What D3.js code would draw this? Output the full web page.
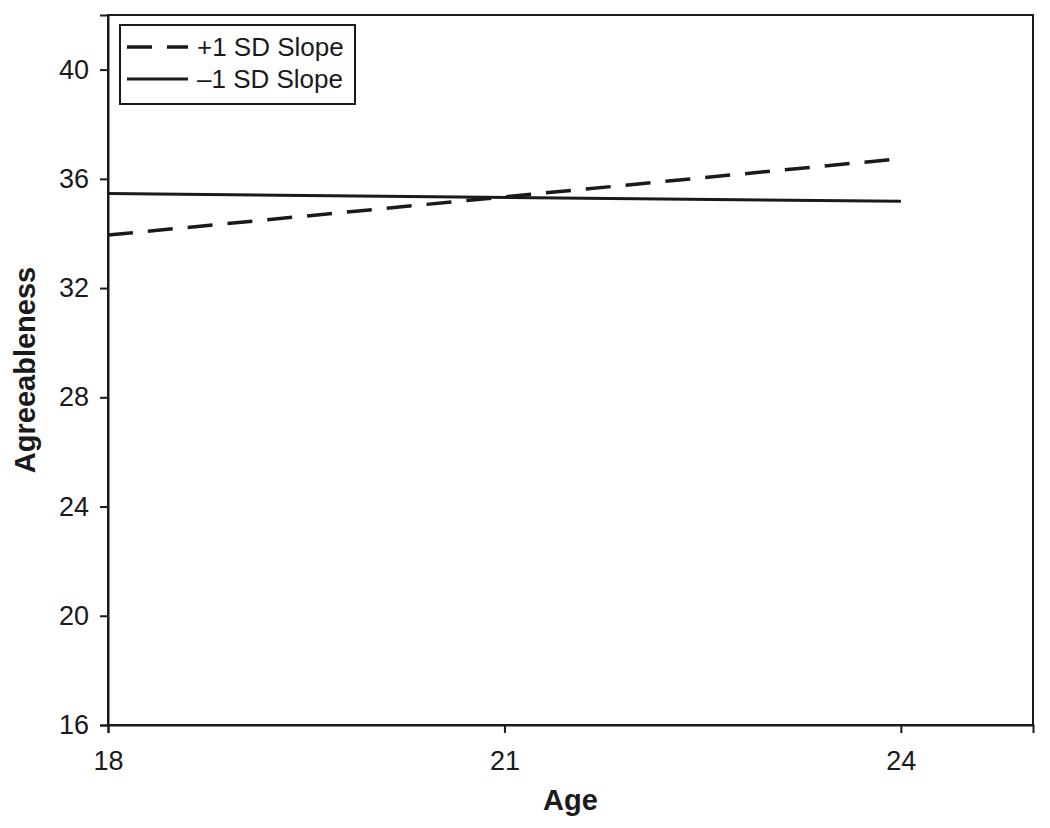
<!DOCTYPE html>
<html><head><meta charset="utf-8">
<script src="https://cdn.jsdelivr.net/npm/d3@7"></script>
<style>body{margin:0;background:#fff;} svg{display:block;}</style>
</head><body>
<script>
const ages = [18, 24];
const plusSD = [33.94, 36.74];
const minusSD = [35.46, 35.18];
const seriesNames = ["+1 SD Slope", "\u20131 SD Slope"];
const xTicks = [18, 21, 24];
const yTicks = [16, 20, 24, 28, 32, 36, 40];

const W = 1050, H = 828;
const m = {left: 108, right: 17, top: 15, bottom: 103};
const svg = d3.select("body").append("svg").attr("width", W).attr("height", H);
const x = d3.scaleLinear().domain([18, 25]).range([m.left, W - m.right]);
const y = d3.scaleLinear().domain([16, 42]).range([H - m.bottom, m.top]);
const font = "'Liberation Sans', Arial, sans-serif";
const ink = "#1a1a1a";

// frame
svg.append("rect").attr("x", m.left).attr("y", m.top)
  .attr("width", W - m.right - m.left).attr("height", H - m.bottom - m.top)
  .attr("fill", "none").attr("stroke", ink).attr("stroke-width", 2);

const xAxis = svg.append("g").attr("transform", `translate(0,${H - m.bottom})`)
  .call(d3.axisBottom(x).tickValues(xTicks).tickSize(8).tickPadding(18).tickFormat(d3.format("d")));
const yAxis = svg.append("g").attr("transform", `translate(${m.left},0)`)
  .call(d3.axisLeft(y).tickValues(yTicks).tickSize(8).tickPadding(11).tickFormat(d3.format("d")));
[xAxis, yAxis].forEach(a => {
  a.select(".domain").attr("stroke", ink).attr("stroke-width", 2);
  a.selectAll(".tick line").attr("stroke", ink).attr("stroke-width", 2);
  a.selectAll("text").attr("font-family", font).attr("font-size", 27).attr("fill", ink);
});

// lines
const line = d3.line().x((d, i) => x(ages[i])).y(d => y(d));
svg.append("path").datum(plusSD).attr("d", line).attr("fill", "none")
  .attr("stroke", ink).attr("stroke-width", 3.5).attr("stroke-dasharray", "25,15");
svg.append("path").datum(minusSD).attr("d", line).attr("fill", "none")
  .attr("stroke", ink).attr("stroke-width", 3);

// legend
const lg = svg.append("g");
lg.append("rect").attr("x", 120).attr("y", 25).attr("width", 235).attr("height", 79)
  .attr("fill", "#fff").attr("stroke", ink).attr("stroke-width", 2);
const rows = [{y: 47, dash: "25,15", w: 3.5}, {y: 79, dash: null, w: 3}];
rows.forEach((r, i) => {
  lg.append("line").attr("x1", 127).attr("x2", 188).attr("y1", r.y).attr("y2", r.y)
    .attr("stroke", ink).attr("stroke-width", r.w).attr("stroke-dasharray", r.dash);
  lg.append("text").attr("x", 197).attr("y", r.y).attr("dy", "0.36em")
    .attr("font-family", font).attr("font-size", 26).attr("fill", ink).text(seriesNames[i]);
});

// axis titles
svg.append("text").attr("x", (m.left + W - m.right) / 2).attr("y", 810).attr("text-anchor", "middle")
  .attr("font-family", font).attr("font-size", 29).attr("font-weight", "bold").attr("fill", ink).text("Age");
svg.append("text").attr("transform", `translate(35,370) rotate(-90)`).attr("text-anchor", "middle")
  .attr("font-family", font).attr("font-size", 29).attr("font-weight", "bold").attr("fill", ink).text("Agreeableness");
</script>
</body></html>
